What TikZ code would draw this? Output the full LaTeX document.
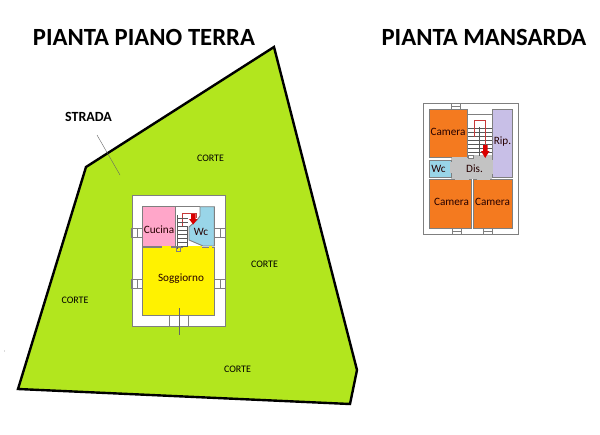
\documentclass[tikz,border=0pt]{standalone}
\usepackage{fontspec}
\setmainfont{Carlito}
\definecolor{lawn}{HTML}{B2E61E}
\definecolor{pinkroom}{HTML}{FFA6C9}
\definecolor{bluer}{HTML}{99D5E8}
\definecolor{yellowr}{HTML}{FFF200}
\definecolor{oranger}{HTML}{F47A1F}
\definecolor{lilac}{HTML}{C8BFE7}
\definecolor{grayr}{HTML}{C3C3C3}
\definecolor{wall}{HTML}{7F7F7F}
\tikzset{
 title/.style={font=\bfseries\fontsize{24.7}{28}\selectfont,inner sep=0pt},
 roomlabel/.style={font=\fontsize{11.2}{13}\selectfont,inner sep=0pt,text=black!85!red},
 corte/.style={font=\fontsize{10}{12}\selectfont,inner sep=0pt},
 wallline/.style={draw=wall,line width=0.9pt},
 thin wall/.style={draw=wall,line width=0.6pt},
 stair/.style={draw=black!65,line width=0.4pt},
 redline/.style={draw=red!55!gray,line width=0.5pt},
 redarrow/.style={draw=none,fill=red!85!black}
}
\begin{document}
\begin{tikzpicture}[x=1pt,y=-1pt]
\useasboundingbox (0,0) rectangle (600,434);
\fill[white] (0,0) rectangle (600,434);
% lot
\coordinate (p1) at (274,47);
\coordinate (p2) at (357,370);
\coordinate (p3) at (350,404);
\coordinate (p4) at (18,389);
\coordinate (p5) at (86,167);
\draw[fill=lawn,line width=2.4pt,line join=miter] (p1)--(p2)--(p3)--(p4)--(p5)--cycle;
\coordinate (s1) at (97,135);
\coordinate (s2) at (120,175);
\draw[draw=black!60,line width=0.4pt] (s1)--(s2);
\node[title] at (144,37.5) {PIANTA PIANO TERRA};
\node[title] at (484,37) {PIANTA MANSARDA};
\node[font=\bfseries\fontsize{14}{16}\selectfont,inner sep=0pt] at (88.5,116.5) {STRADA};
\node[corte] at (210.5,158.5) {CORTE};
\node[corte] at (264.5,264.5) {CORTE};
\node[corte] at (75,300.5) {CORTE};
\node[corte] at (237.5,369) {CORTE};
\fill[black!60] (4.5,351) circle (0.4);
% ground floor
\draw[wallline,fill=white] (132,195) rectangle (225.7,326.3);
\draw[wallline,fill=pinkroom] (142.7,206.7) rectangle (175,246);
\draw[wallline,fill=bluer] (200,206.7) -- (214.3,206.7) -- (214.3,246) -- (203,246) -- (189,240) -- (189,227) -- (197,220) -- (200,216) -- cycle;
\draw[wallline] (175,206.7) -- (200,206.7);
\draw[wallline,fill=yellowr] (142.7,247.3) rectangle (214.3,315);
% door gaps
\fill[yellowr] (162,246) rectangle (171,248);
\fill[yellowr] (183,246) rectangle (202,248);
\fill[yellowr] (209,246) rectangle (212,248);
% stairs
\draw[redline] (182,226) -- (182,213) -- (196,213) -- (196,218);
\foreach \yy in {218,222,226,230,234,238,242,246}{\draw[stair] (177,\yy)--(188,\yy);}
\draw[stair] (177,215)--(177,249);
\draw[stair] (187,226)--(187,246);
\draw[thin wall] (176,246) rectangle (180,251);
\fill[redarrow] (191,214)--(195.5,214)--(195.5,219)--(197.5,219)--(193.2,224.5)--(189,219)--(191,219)--cycle;
% windows
\foreach \yy in {233,284}{
 \draw[thin wall] (131.7,\yy-4.5) rectangle (142.7,\yy+4.5);
 \draw[thin wall] (137,\yy-4.5)--(137,\yy+4.5);
 \draw[thin wall] (214.3,\yy-4.5) rectangle (225.7,\yy+4.5);
 \draw[thin wall] (220,\yy-4.5)--(220,\yy+4.5);
}
\draw[thin wall] (169.5,315) -- (169.5,326.3) (188.5,315) -- (188.5,326.3);
\coordinate (d1) at (179,308);
\coordinate (d2) at (179,335);
\draw[draw=black!60,line width=0.4pt] (d1)--(d2);
\node[roomlabel] at (159,229.5) {Cucina};
\node[roomlabel] at (201,232) {Wc};
\node[roomlabel] at (181,278.5) {Soggiorno};
% attic
\draw[wallline,fill=white] (423.5,103.3) rectangle (518.3,234.3);
\draw[draw=none,fill=grayr] (451,155) -- (492.3,155) -- (492.3,179.3) -- (451,179.3) -- cycle;
\draw[wallline] (467.3,114) -- (492.3,114);
\draw[wallline,fill=oranger] (429,109) rectangle (467.3,157.3);
\draw[wallline,fill=lilac] (492.3,109) rectangle (512.7,177.7);
\draw[wallline,fill=bluer] (429,160) rectangle (451,177.7);
\draw[wallline,fill=oranger] (429,179.3) rectangle (471.7,228.3);
\draw[wallline,fill=oranger] (473.3,179.3) rectangle (512.7,228.3);
% attic doorways
\fill[grayr] (450,162) rectangle (452,173);
\fill[grayr] (455,178.6) rectangle (469,180);
\fill[grayr] (477,178.6) rectangle (490,180);
\fill[grayr] (491.6,160) rectangle (493,174);
\fill[grayr] (452,156.6) rectangle (466.6,158.2);
\foreach \yy in {128,132,136,140,144,148,152}{\draw[stair] (468,\yy)--(492,\yy);}
\draw[stair] (479.5,127)--(479.5,156);
\draw[redline] (474.5,137) -- (474.5,120) -- (485,120) -- (485,146);
\draw[thin wall,fill=white] (468,155) rectangle (473,158.5);
\fill[redarrow] (483,145)--(487.5,145)--(487.5,151)--(489.5,151)--(485.2,158)--(481,151)--(483,151)--cycle;
\foreach \xx in {455.5}{\draw[thin wall] (\xx-4.5,103.3) rectangle (\xx+4.5,109);\draw[thin wall] (\xx-4.5,106)--(\xx+4.5,106);}
\foreach \xx in {457,488}{\draw[thin wall] (\xx-4.5,228.3) rectangle (\xx+4.5,234.3);\draw[thin wall] (\xx-4.5,231)--(\xx+4.5,231);}
\node[roomlabel] at (448,131.5) {Camera};
\node[roomlabel] at (502.5,142) {Rip.};
\node[roomlabel] at (438.5,169) {Wc};
\node[roomlabel] at (474.5,169) {Dis.};
\node[roomlabel] at (451.5,202) {Camera};
\node[roomlabel] at (492.5,202) {Camera};
\end{tikzpicture}
\end{document}
